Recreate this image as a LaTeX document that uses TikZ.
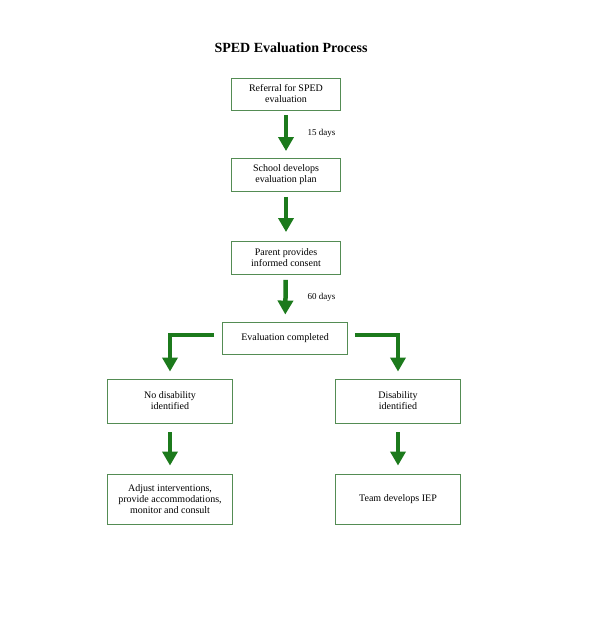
\documentclass[tikz,border=0pt]{standalone}
\usepackage{fontspec}
\setmainfont{Liberation Serif}
\usetikzlibrary{arrows.meta,positioning}
\definecolor{boxgreen}{RGB}{84,140,84}
\definecolor{arrowgreen}{RGB}{28,122,28}
\tikzset{
  box/.style={draw=boxgreen, line width=0.9pt, align=center, inner sep=0pt,
    font=\fontsize{10}{11}\selectfont},
  flow/.style={draw=arrowgreen, line width=4.5pt,
    -{Triangle[width=15pt,length=14pt]}, shorten >=7pt, shorten <=5pt},
  days/.style={font=\fontsize{9}{10}\selectfont, anchor=west}
}

\begin{document}
\begin{tikzpicture}[x=1pt,y=-1pt]
\useasboundingbox (0,0) rectangle (600,631);
\node[font=\bfseries\fontsize{14}{16}\selectfont] (title) at (291,48) {SPED Evaluation Process};
\node[box, minimum width=109pt, minimum height=32pt] (ref) at (286,94) {Referral for SPED\\evaluation};
\node[box, minimum width=109pt, minimum height=33pt] (plan) at (286,175) {School develops\\evaluation plan};
\node[box, minimum width=109pt, minimum height=33pt] (consent) at (286,258) {Parent provides\\informed consent};
\node[box, minimum width=125pt, minimum height=32pt] (eval) at (285,338) {Evaluation completed};
\node[box, minimum width=125pt, minimum height=44pt] (nodis) at (170,401) {No disability\\identified};
\node[box, minimum width=125pt, minimum height=44pt] (dis) at (398,401) {Disability\\identified};
\node[box, minimum width=125pt, minimum height=50pt] (adjust) at (170,499) {Adjust interventions,\\provide accommodations,\\monitor and consult};
\node[box, minimum width=125pt, minimum height=50pt] (iep) at (398,499) {Team develops IEP};
\node[days] (d15) at (304,133) {15 days};
\node[days] (d60) at (304,297) {60 days};
\draw[flow] (ref) -- (plan);
\draw[flow, shorten >=9pt] (plan) -- (consent);
\draw[flow] (consent) -- (eval);
\draw[flow, shorten <=8pt] ([yshift=3pt]eval.west) -| (nodis.north);
\draw[flow, shorten <=7pt] ([yshift=3pt]eval.east) -| (dis.north);
\draw[flow, shorten <=9pt, shorten >=8pt] (nodis) -- (adjust);
\draw[flow, shorten <=9pt, shorten >=8pt] (dis) -- (iep);
\end{tikzpicture}
\end{document}
